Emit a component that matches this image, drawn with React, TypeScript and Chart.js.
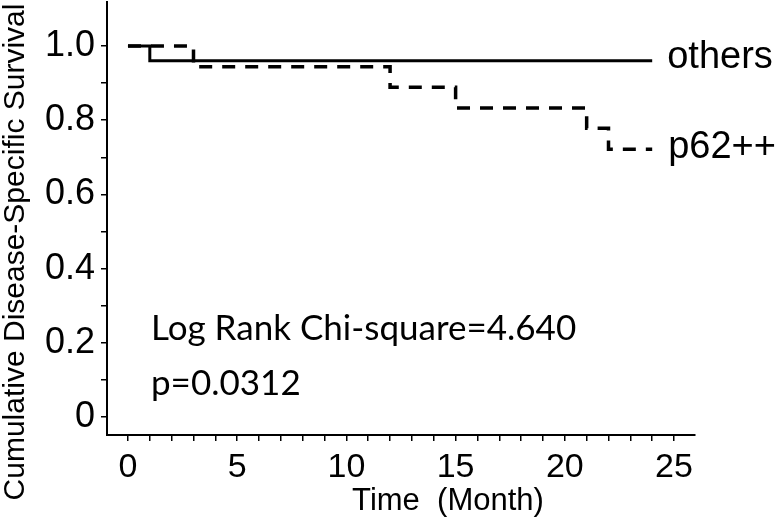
import React, { useEffect, useRef } from 'react';
import { Chart, registerables } from 'chart.js';

Chart.register(...registerables);

// ---- data ----
const othersTime = [0, 1, 24];
const othersSurvival = [1.0, 0.96, 0.96];

const p62Time = [0, 3, 12, 15, 21, 22, 24];
const p62Survival = [1.0, 0.944, 0.889, 0.833, 0.778, 0.722, 0.722];

const xTickValues = [0, 1, 2, 3, 4, 5, 6, 7, 8, 9, 10, 11, 12, 13, 14, 15, 16, 17, 18, 19, 20, 21, 22, 23, 24, 25];
const xLabelledValues = [0, 5, 10, 15, 20, 25];
const xTickLabels = ['0', '5', '10', '15', '20', '25'];

const yTickValues = [0, 0.1, 0.2, 0.3, 0.4, 0.5, 0.6, 0.7, 0.8, 0.9, 1.0];
const yLabelledValues = [0, 0.2, 0.4, 0.6, 0.8, 1.0];
const yTickLabels = ['0', '0.2', '0.4', '0.6', '0.8', '1.0'];

const seriesNames = ['others', 'p62++'];
const xTitle = 'Time  (Month)';
const yTitle = 'Cumulative Disease-Specific Survival';
const statLines = ['Log Rank Chi-square=4.640', 'p=0.0312'];

const ARIAL = '"Liberation Sans", Arial, sans-serif';
const CALIBRI = 'Lato, "Open Sans", sans-serif';

function labelFor(values: number[], labels: string[], v: number): string {
  for (let i = 0; i < values.length; i++) {
    if (Math.abs(values[i] - v) < 1e-6) return labels[i];
  }
  return '';
}

const textPlugin = {
  id: 'kmTexts',
  afterDraw(chart: any) {
    const { ctx, scales } = chart;
    const xs = scales.x;
    const ys = scales.y;
    ctx.save();
    ctx.fillStyle = '#000';

    // y axis title
    ctx.save();
    ctx.font = `30px ${ARIAL}`;
    ctx.translate(16, 252);
    ctx.rotate(-Math.PI / 2);
    ctx.textAlign = 'center';
    ctx.textBaseline = 'middle';
    ctx.fillText(yTitle, 0, 0);
    ctx.restore();

    // x axis title
    ctx.font = `31px ${ARIAL}`;
    ctx.textAlign = 'center';
    ctx.textBaseline = 'alphabetic';
    ctx.fillText(xTitle, 448, 510);

    // series names
    ctx.font = `38px ${ARIAL}`;
    ctx.textAlign = 'left';
    const endX = xs.getPixelForValue(othersTime[othersTime.length - 1]);
    ctx.fillText(seriesNames[0], endX + 15, ys.getPixelForValue(othersSurvival[othersSurvival.length - 1]) + 7);
    ctx.fillText(seriesNames[1], endX + 16, ys.getPixelForValue(p62Survival[p62Survival.length - 1]) + 9);

    // statistics text
    ctx.font = `35px ${CALIBRI}`;
    ctx.fillText(statLines[0], 151, 340);
    ctx.fillText(statLines[1], 151, 395);

    ctx.restore();
  },
};

export default function App() {
  const canvasRef = useRef<HTMLCanvasElement | null>(null);

  useEffect(() => {
    const canvas = canvasRef.current;
    if (!canvas) return;
    const chart = new Chart(canvas, {
      type: 'line',
      data: {
        datasets: [
          {
            label: seriesNames[0],
            data: othersTime.map((t, i) => ({ x: t, y: othersSurvival[i] })),
            stepped: true,
            borderColor: '#000',
            borderWidth: 3,
            pointRadius: 0,
            fill: false,
          },
          {
            label: seriesNames[1],
            data: p62Time.map((t, i) => ({ x: t, y: p62Survival[i] })),
            stepped: true,
            borderColor: '#000',
            borderWidth: 3.5,
            borderDash: [13, 10],
            pointRadius: 0,
            fill: false,
          },
        ],
      },
      options: {
        animation: false,
        responsive: false,
        maintainAspectRatio: false,
        devicePixelRatio: 1,
        layout: { padding: { top: 2, right: 87, left: 0, bottom: 0 } },
        plugins: {
          legend: { display: false },
          tooltip: { enabled: false },
        },
        scales: {
          x: {
            type: 'linear',
            min: -0.96,
            max: 25.96,
            afterBuildTicks: (s: any) => {
              s.ticks = xTickValues.map((v) => ({ value: v }));
            },
            afterFit: (s: any) => {
              s.height = 90;
              s.paddingLeft = 0;
              s.paddingRight = 0;
            },
            ticks: {
              autoSkip: false,
              maxRotation: 0,
              minRotation: 0,
              padding: 6,
              color: '#000',
              font: { family: ARIAL, size: 34 },
              callback: (v: any) => labelFor(xLabelledValues, xTickLabels, Number(v)),
            },
            grid: {
              drawOnChartArea: false,
              drawTicks: true,
              tickLength: 6,
              color: '#000',
              lineWidth: 1.5,
            },
            border: { display: true, color: '#000', width: 2 },
          },
          y: {
            type: 'linear',
            min: -0.0485,
            max: 1.1186,
            afterBuildTicks: (s: any) => {
              s.ticks = yTickValues.map((v) => ({ value: v }));
            },
            afterFit: (s: any) => {
              s.width = 107;
              s.paddingTop = 0;
              s.paddingBottom = 0;
            },
            ticks: {
              autoSkip: false,
              padding: 6,
              color: '#000',
              font: { family: ARIAL, size: 36 },
              callback: (v: any) => labelFor(yLabelledValues, yTickLabels, Number(v)),
            },
            grid: {
              drawOnChartArea: false,
              drawTicks: true,
              tickLength: 6,
              color: '#000',
              lineWidth: 1.5,
            },
            border: { display: true, color: '#000', width: 2 },
          },
        },
      } as any,
      plugins: [textPlugin],
    });
    return () => chart.destroy();
  }, []);

  return (
    <div style={{ position: 'absolute', left: 0, top: 0, width: 782, height: 525, background: '#fff' }}>
      <canvas ref={canvasRef} width={782} height={525} style={{ display: 'block' }} />
    </div>
  );
}
